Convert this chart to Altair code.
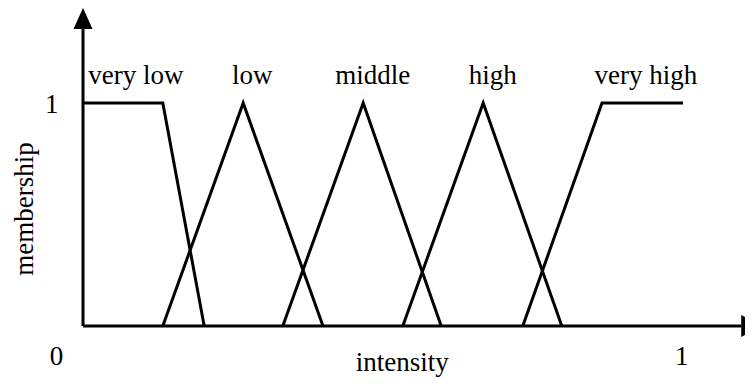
import altair as alt
import pandas as pd

# membership functions (x breakpoints on intensity, membership values)
names = ["very low", "low", "middle", "high", "very high"]
fx = [
    [0.0, 0.133, 0.202],
    [0.133, 0.267, 0.400],
    [0.333, 0.467, 0.597],
    [0.533, 0.667, 0.798],
    [0.733, 0.865, 1.0],
]
fy = [
    [1, 1, 0],
    [0, 1, 0],
    [0, 1, 0],
    [0, 1, 0],
    [0, 1, 1],
]
# label anchor positions (intensity, membership)
label_x = [0.088, 0.282, 0.483, 0.683, 0.938]
label_y = [1.085, 1.085, 1.085, 1.085, 1.085]

# axes extents (data units)
x_axis_end = 1.097
y_axis_end = 1.332

# tick labels
tick_text = ["0", "1", "1"]
tick_x = [-0.044, -0.052, 0.998]
tick_y = [-0.175, 0.955, -0.175]

rows = []
for n, xs, ys in zip(names, fx, fy):
    for i, (a, b) in enumerate(zip(xs, ys)):
        rows.append({"name": n, "i": i, "x": a, "y": b})
df = pd.DataFrame(rows)

FONT = "Liberation Serif"
FS = 27
xs_ = alt.Scale(domain=[0, 1], nice=False, zero=False)
ys_ = alt.Scale(domain=[0, 1], nice=False, zero=False)

lines = alt.Chart(df).mark_line(color="black", strokeWidth=3, strokeJoin="miter", clip=False).encode(
    x=alt.X("x:Q", scale=xs_, axis=None),
    y=alt.Y("y:Q", scale=ys_, axis=None),
    detail="name:N",
    order="i:Q",
)

axes_df = pd.DataFrame({"x0": [0.0, 0.0], "x1": [x_axis_end, 0.0], "y0": [0.0, 0.0], "y1": [0.0, y_axis_end]})
axes = alt.Chart(axes_df).mark_rule(color="black", strokeWidth=3, strokeCap="butt").encode(
    x=alt.X("x0:Q", scale=xs_, axis=None),
    x2="x1:Q",
    y=alt.Y("y0:Q", scale=ys_, axis=None),
    y2="y1:Q",
)

arrow_up = alt.Chart(pd.DataFrame({"x": [0.0], "y": [y_axis_end]})).mark_point(
    shape="M-0.95,0L0,-2.1L0.95,0Z", size=400, filled=True, color="black", opacity=1, strokeWidth=0
).encode(x=alt.X("x:Q", scale=xs_, axis=None), y=alt.Y("y:Q", scale=ys_, axis=None))

arrow_right = alt.Chart(pd.DataFrame({"x": [x_axis_end], "y": [0.0]})).mark_point(
    shape="M0,-1.1L2.0,0L0,1.1Z", size=400, filled=True, color="black", opacity=1, strokeWidth=0
).encode(x=alt.X("x:Q", scale=xs_, axis=None), y=alt.Y("y:Q", scale=ys_, axis=None))

lab_df = pd.DataFrame({"t": names, "x": label_x, "y": label_y})
labels = alt.Chart(lab_df).mark_text(font=FONT, fontSize=FS, color="black", align="center", baseline="alphabetic").encode(
    x=alt.X("x:Q", scale=xs_, axis=None), y=alt.Y("y:Q", scale=ys_, axis=None), text="t:N"
)

tick_df = pd.DataFrame({"t": tick_text, "x": tick_x, "y": tick_y})
ticks = alt.Chart(tick_df).mark_text(font=FONT, fontSize=FS, color="black", align="center", baseline="alphabetic").encode(
    x=alt.X("x:Q", scale=xs_, axis=None), y=alt.Y("y:Q", scale=ys_, axis=None), text="t:N"
)

xt_df = pd.DataFrame({"t": ["intensity"], "x": [0.532], "y": [-0.204]})
xtitle = alt.Chart(xt_df).mark_text(font=FONT, fontSize=FS, color="black", align="center", baseline="alphabetic").encode(
    x=alt.X("x:Q", scale=xs_, axis=None), y=alt.Y("y:Q", scale=ys_, axis=None), text="t:N"
)

yt_df = pd.DataFrame({"t": ["membership"], "x": [-0.083], "y": [0.525]})
ytitle = alt.Chart(yt_df).mark_text(font=FONT, fontSize=FS, color="black", align="center", baseline="alphabetic", angle=270).encode(
    x=alt.X("x:Q", scale=xs_, axis=None), y=alt.Y("y:Q", scale=ys_, axis=None), text="t:N"
)

chart = alt.layer(lines, axes, arrow_up, arrow_right, labels, ticks, xtitle, ytitle).properties(
    width=600,
    height=223,
    padding={"left": 75, "top": 95, "right": 62, "bottom": 53},
    autosize=alt.AutoSizeParams(type="none"),
    background="white",
).configure_view(stroke=None)

chart.save("out.html", embed_options={"renderer": "svg", "actions": False})
